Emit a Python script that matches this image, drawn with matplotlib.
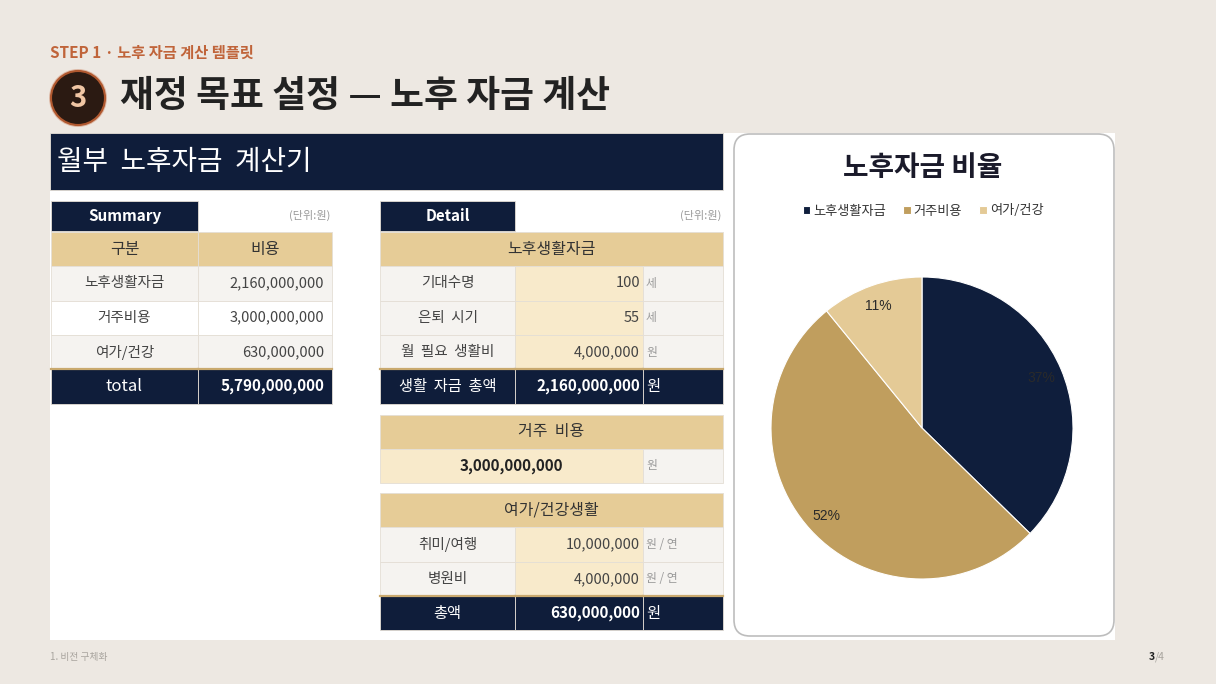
import matplotlib
matplotlib.use('Agg')
import matplotlib.pyplot as plt
from matplotlib.patches import Rectangle, FancyBboxPatch, Circle

plt.rcParams['font.family'] = ['Noto Sans CJK KR', 'DejaVu Sans']

# 데이터
summary_labels = ['노후생활자금', '거주비용', '여가/건강']
summary_values = [2160000000, 3000000000, 630000000]

life_labels = ['기대수명', '은퇴  시기', '월  필요  생활비']
life_values = [100, 55, 4000000]
life_units = ['세', '세', '원']

housing_value = 3000000000

leisure_labels = ['취미/여행', '병원비']
leisure_values = [10000000, 4000000]
leisure_units = ['원 / 연', '원 / 연']

pie_labels = ['노후생활자금', '거주비용', '여가/건강']
pie_colors = ['#0f1e3c', '#c09e5e', '#e4ca96']

# 파생 값
years = life_values[0] - life_values[1]
life_total = years * 12 * life_values[2]
leisure_total = years * sum(leisure_values)
summary_total = sum(summary_values)

NAVY = '#0f1d3a'
TAN = '#e6cc97'
CREAM = '#f8eacb'
GRAY = '#f5f3f0'
DARK = '#333333'
UNIT = '#9a9a9a'

W, H = 1216, 684
fig = plt.figure(figsize=(W / 100, H / 100), dpi=100, facecolor='#ede8e2')
ax = fig.add_axes([0, 0, 1, 1])
ax.set_xlim(0, W)
ax.set_ylim(H, 0)
ax.axis('off')


def cell(x0, x1, y0, y1, color, z=2):
    ax.add_patch(Rectangle((x0, y0), x1 - x0, y1 - y0, facecolor=color,
                           edgecolor='#e4ded5', linewidth=0.6, zorder=z))


def txt(x, y, s, size=10.5, color=DARK, ha='center', weight='normal', **kw):
    ax.text(x, y, s, fontsize=size, color=color, ha=ha, va='center',
            fontweight=weight, zorder=5, **kw)


def total_row(x0, x1, y0, y1):
    cell(x0, x1, y0, y1, NAVY)
    ax.plot([x0, x1], [y0, y0], color='#c9a96e', lw=1.6, zorder=4)


# 상단 제목
txt(50, 53, 'STEP 1 · 노후 자금 계산 템플릿', size=11, color='#c0643a', ha='left', weight='bold')
ax.add_patch(Circle((78, 98), 29, facecolor='#c0643a', alpha=0.35, edgecolor='none', zorder=2))
ax.add_patch(Circle((78, 98), 27, facecolor='#2b1a12', edgecolor='#b0582f', linewidth=1.5, zorder=3))
txt(78, 98, '3', size=21, color='#f1c6a4', weight='bold')
txt(120, 96, '재정 목표 설정 — 노후 자금 계산', size=26.5, color='#222222', ha='left', weight='bold')

# 흰 패널
ax.add_patch(Rectangle((50, 133), 1065, 507, facecolor='white', edgecolor='none', zorder=1))
cell(50, 723, 133, 190, NAVY)
txt(57, 162, '월부  노후자금  계산기', size=20, color='white', ha='left')

row_h = 34.3

# Summary 표
sx = [51, 198, 332]
cell(sx[0], sx[1], 201, 231, NAVY)
txt((sx[0] + sx[1]) / 2, 216, 'Summary', size=11, color='white', weight='bold')
txt(sx[2] - 2, 215, '(단위:원)', size=8, color=UNIT, ha='right')
top = 232
cell(sx[0], sx[1], top, top + row_h, TAN)
cell(sx[1], sx[2], top, top + row_h, TAN)
txt((sx[0] + sx[1]) / 2, top + row_h / 2, '구분', size=11.5)
txt((sx[1] + sx[2]) / 2, top + row_h / 2, '비용', size=11.5)
for i, (lab, val) in enumerate(zip(summary_labels, summary_values)):
    y0 = top + row_h * (i + 1)
    bg = GRAY if i % 2 == 0 else 'white'
    cell(sx[0], sx[1], y0, y0 + row_h, bg)
    cell(sx[1], sx[2], y0, y0 + row_h, bg)
    txt((sx[0] + sx[1]) / 2, y0 + row_h / 2, lab, size=10.5, color='#444444')
    txt(sx[2] - 8, y0 + row_h / 2, f'{val:,}', size=10.5, color='#444444', ha='right')
y0 = top + row_h * 4
total_row(sx[0], sx[1], y0, y0 + row_h)
total_row(sx[1], sx[2], y0, y0 + row_h)
txt((sx[0] + sx[1]) / 2, y0 + row_h / 2, 'total', size=12, color='white')
txt(sx[2] - 8, y0 + row_h / 2, f'{summary_total:,}', size=11, color='white', ha='right', weight='bold')

# Detail 표
dx = [380, 515, 643, 723]
cell(dx[0], dx[1], 201, 231, NAVY)
txt((dx[0] + dx[1]) / 2, 216, 'Detail', size=11, color='white', weight='bold')
txt(dx[3] - 2, 215, '(단위:원)', size=8, color=UNIT, ha='right')


def header(y0, title):
    cell(dx[0], dx[3], y0, y0 + row_h, TAN)
    txt((dx[0] + dx[3]) / 2, y0 + row_h / 2, title, size=11.5)


def detail_row(y0, lab, val, unit):
    cell(dx[0], dx[1], y0, y0 + row_h, GRAY)
    cell(dx[1], dx[2], y0, y0 + row_h, CREAM)
    cell(dx[2], dx[3], y0, y0 + row_h, GRAY)
    txt((dx[0] + dx[1]) / 2, y0 + row_h / 2, lab, size=10.5, color='#444444')
    txt(dx[2] - 3, y0 + row_h / 2, f'{val:,}', size=10.5, color='#444444', ha='right')
    txt(dx[2] + 3, y0 + row_h / 2, unit, size=8.5, color=UNIT, ha='left')


def detail_total(y0, lab, val):
    for a, b in zip(dx[:-1], dx[1:]):
        total_row(a, b, y0, y0 + row_h)
    txt((dx[0] + dx[1]) / 2, y0 + row_h / 2, lab, size=11, color='white')
    txt(dx[2] - 3, y0 + row_h / 2, f'{val:,}', size=11, color='white', ha='right', weight='bold')
    txt(dx[2] + 3, y0 + row_h / 2, '원', size=11, color='white', ha='left')


y = 232
header(y, '노후생활자금')
for i, (lab, val, unit) in enumerate(zip(life_labels, life_values, life_units)):
    detail_row(y + row_h * (i + 1), lab, val, unit)
detail_total(y + row_h * 4, '생활  자금  총액', life_total)

y = 232 + row_h * 5 + 11
header(y, '거주  비용')
y1 = y + row_h
cell(dx[0], dx[2], y1, y1 + row_h, CREAM)
cell(dx[2], dx[3], y1, y1 + row_h, GRAY)
txt((dx[0] + dx[2]) / 2, y1 + row_h / 2, f'{housing_value:,}', size=11, color='#222222', weight='bold')
txt(dx[2] + 3, y1 + row_h / 2, '원', size=8.5, color=UNIT, ha='left')

y = y1 + row_h + 10
header(y, '여가/건강생활')
for i, (lab, val, unit) in enumerate(zip(leisure_labels, leisure_values, leisure_units)):
    detail_row(y + row_h * (i + 1), lab, val, unit)
detail_total(y + row_h * 3, '총액', leisure_total)

# 파이 차트 패널
ax.add_patch(FancyBboxPatch((734, 134), 380, 502, boxstyle='round,pad=0,rounding_size=16',
                            facecolor='white', edgecolor='#bdbdbd', linewidth=1.2, zorder=2))
txt(923, 168, '노후자금 비율', size=20, color='#1a1a2a', weight='bold')

cx, cy, r = 922, 428, 151
pax = fig.add_axes([(cx - r) / W, (H - cy - r) / H, 2 * r / W, 2 * r / H])
pax.set_facecolor('none')
wedges, _, autotexts = pax.pie(summary_values, colors=pie_colors, startangle=90, counterclock=False,
                               autopct='%1.0f%%', pctdistance=0.86,
                               wedgeprops=dict(edgecolor='white', linewidth=0.8),
                               textprops=dict(fontsize=10, color='#2a2a2a', family='Liberation Sans'))
pax.set_xlim(-1, 1)
pax.set_ylim(-1, 1)
pax.set_aspect('equal')

pax.legend(wedges, pie_labels, loc='center', bbox_to_anchor=(923 / W, 1 - 211 / H),
           bbox_transform=fig.transFigure, ncol=3, frameon=False, fontsize=9.5,
           handlelength=0.6, handleheight=0.6, handletextpad=0.2, columnspacing=1.3,
           labelcolor='#333333')

# 바닥글
txt(50, 657, '1. 비전 구체화', size=7, color='#a8a49e', ha='left')
txt(1155, 657, '3', size=7.5, color='#222222', ha='right', weight='bold')
txt(1155, 657, '/4', size=7.5, color='#a8a49e', ha='left')

fig.savefig('out.png', dpi=100, facecolor=fig.get_facecolor())
